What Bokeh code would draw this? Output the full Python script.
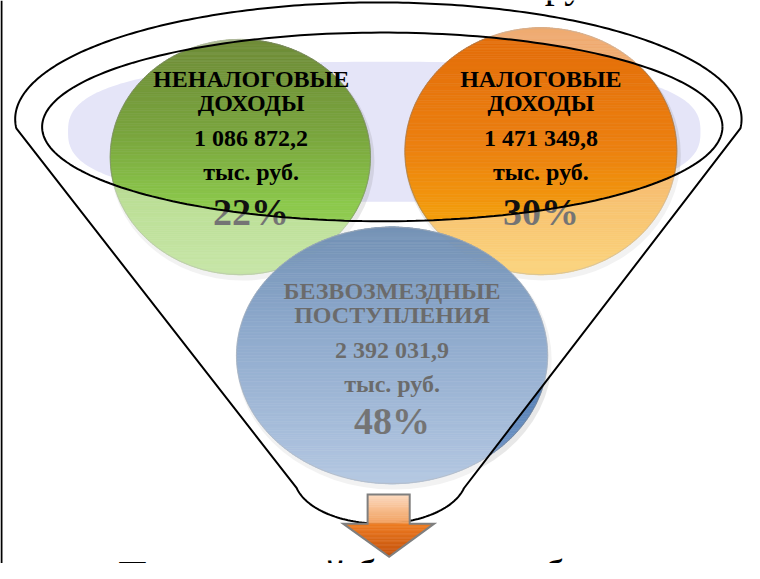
import numpy as np
from bokeh.plotting import figure
from bokeh.models import Range1d
from bokeh.core.properties import value
from bokeh.embed import file_html
from bokeh.resources import INLINE

# ---------------- data ----------------
categories = [["НЕНАЛОГОВЫЕ", "ДОХОДЫ"], ["НАЛОГОВЫЕ", "ДОХОДЫ"], ["БЕЗВОЗМЕЗДНЫЕ", "ПОСТУПЛЕНИЯ"]]
amounts = [1086872.2, 1471349.8, 2392031.9]   # тыс. руб.
shares = [22, 30, 48]                          # %
unit = "тыс. руб."
bottom_caption = "Поступлений бюджета в бюджет"
top_fragment = "ру"

# ---------------- layout / style ----------------
W, H = 760, 579
circles = [  # centre, radii, text x, text line y
    dict(cx=245, cy=161, rx=133, ry=121, tx=256, ty=[81, 105, 141, 176, 218],
         stops=[(40, "#6f8c38"), (140, "#7aa63e"), (210, "#8cc94c"), (282, "#a0d469")]),
    dict(cx=552, cy=155, rx=139, ry=127, tx=552, ty=[81, 105, 141, 176, 217],
         stops=[(28, "#e36c09"), (150, "#ec8010"), (220, "#f39c0c"), (282, "#f9b520")]),
    dict(cx=400, cy=365, rx=159, ry=132, tx=400, ty=[299, 323, 359, 394, 432],
         stops=[(233, "#0d417f"), (330, "#3a6aa6"), (497, "#7ea0cd")]),
]


def hex2rgb(h):
    return [int(h[i:i + 2], 16) for i in (1, 3, 5)]


def grad(stops, y):
    ys = [s[0] for s in stops]
    cols = np.array([hex2rgb(s[1]) for s in stops], dtype=float)
    rgb = [np.interp(y, ys, cols[:, k]) for k in range(3)]
    return "#%02x%02x%02x" % tuple(int(round(v)) for v in rgb)


def ellipse_bands(cx, cy, rx, ry, stops, n=140):
    th = np.linspace(0, np.pi, n + 1)
    ys = cy - ry * np.cos(th)
    half = rx * np.sin(th)
    xs_l, ys_l, cols = [], [], []
    for i in range(n):
        y0, y1, h0, h1 = ys[i], ys[i + 1], half[i], half[i + 1]
        xs_l.append([cx - h0, cx + h0, cx + h1, cx - h1])
        ys_l.append([y0, y0, y1, y1])
        cols.append(grad(stops, 0.5 * (y0 + y1)))
    return xs_l, ys_l, cols


def fmt(v):
    return f"{v:,.1f}".replace(",", " ").replace(".", ",")


p = figure(width=744, height=563, x_range=Range1d(0, W), y_range=Range1d(H, 0),
           output_backend="svg", toolbar_location=None, min_border=0,
           background_fill_color="white", border_fill_color="white")
p.axis.visible = False
p.grid.visible = False
p.outline_line_color = None

# left page border
p.line([1, 1], [0, H], line_color="black", line_width=2)

# lavender top of funnel (superellipse)
t = np.linspace(0, 2 * np.pi, 300)
nexp = 2.6
lx = 392 + 323 * np.sign(np.cos(t)) * np.abs(np.cos(t)) ** (2 / nexp)
ly = 135 + 72 * np.sign(np.sin(t)) * np.abs(np.sin(t)) ** (2 / nexp)
p.patch(lx, ly, fill_color="#e5e5f8", line_color=None)

# soft shadows
for c in circles:
    p.ellipse(x=c["cx"] + 2, y=c["cy"] + 4, width=2 * c["rx"] + 4, height=2 * c["ry"] + 4,
              fill_color="#808080", fill_alpha=0.18, line_color=None)

# circles with gradient
for c in circles:
    xs_l, ys_l, cols = ellipse_bands(c["cx"], c["cy"], c["rx"], c["ry"], c["stops"])
    p.patches(xs_l, ys_l, fill_color=cols, line_color=cols, line_width=0.6)
    p.ellipse(x=c["cx"], y=c["cy"], width=2 * c["rx"], height=2 * c["ry"],
              fill_alpha=0, line_color="#7f7f7f", line_alpha=0.5, line_width=1)

# texts
serif = value("Liberation Serif")
for c, cat, amt, sh in zip(circles, categories, amounts, shares):
    lines = [cat[0], cat[1], fmt(amt), unit]
    p.text(x=[c["tx"]] * 4, y=c["ty"][:4], text=lines, text_font=serif,
           text_font_style="bold", text_font_size="24px", text_color="black",
           text_align="center", text_baseline="middle")
    p.text(x=[c["tx"]], y=[c["ty"][4]], text=[f"{sh}%"], text_font=serif,
           text_font_style="bold", text_font_size="38px", text_color="#111111",
           text_align="center", text_baseline="middle")

# funnel geometry
ta = np.linspace(np.pi + 0.08, -0.08, 220)
top_x = 386 + 371 * np.cos(ta)
top_y = 122 - 120 * np.sin(ta)
ba = np.linspace(0.244, np.pi - 0.244, 80)
bot_x = 388 + 88 * np.cos(ba)
bot_y = 490 + 48 * np.sin(ba)
fx = np.concatenate([top_x, bot_x, top_x[:1]])
fy = np.concatenate([top_y, bot_y, top_y[:1]])

ti = np.linspace(0, 2 * np.pi, 240)
ix = 390 + 347.5 * np.cos(ti)
iy = 130 + 97 * np.sin(ti)

# translucent funnel body outside the top ring
p.multi_polygons(xs=[[[list(fx), list(ix)]]], ys=[[[list(fy), list(iy)]]],
                 fill_color="white", fill_alpha=0.42, line_color=None)

p.line(fx, fy, line_color="black", line_width=2)
p.line(ix, iy, line_color="black", line_width=2)

# arrow
ax0, ax1, atop, abase = 375, 418, 508, 538
bx0, bx1, tipx, tipy = 350, 443, 397, 572
arrow_stops = [(508, "#fcdcc2"), (537, "#f2a262"), (539, "#ed7b22"), (572, "#c2510c")]
axs, ays, acols = [], [], []
sy = np.linspace(atop, abase, 16)
for y0, y1 in zip(sy[:-1], sy[1:]):
    axs.append([ax0, ax1, ax1, ax0]); ays.append([y0, y0, y1, y1])
    acols.append(grad(arrow_stops, 0.5 * (y0 + y1)))
ty_ = np.linspace(abase, tipy, 25)
for y0, y1 in zip(ty_[:-1], ty_[1:]):
    f0 = (tipy - y0) / (tipy - abase); f1 = (tipy - y1) / (tipy - abase)
    axs.append([tipx - (tipx - bx0) * f0, tipx + (bx1 - tipx) * f0,
                tipx + (bx1 - tipx) * f1, tipx - (tipx - bx0) * f1])
    ays.append([y0, y0, y1, y1])
    acols.append(grad(arrow_stops, 0.5 * (y0 + y1)))
p.patches(axs, ays, fill_color=acols, line_color=acols, line_width=0.6)
p.patch([ax0, ax1, ax1, bx1, tipx, bx0, ax0, ax0],
        [atop, atop, abase, abase, tipy, abase, abase, atop],
        fill_alpha=0, line_color="#7f7f7f", line_width=2, line_join="miter")

# captions cut off at the page edges (as in the source picture)
p.text(x=[120], y=[567], text=[bottom_caption], text_font=serif, text_font_size="40px",
       text_color="black", text_align="left", text_baseline="top")
p.text(x=[556], y=[6], text=[top_fragment], text_font=serif, text_font_size="40px",
       text_color="black", text_align="left", text_baseline="bottom")

open("out.html", "w").write(file_html(p, INLINE))
